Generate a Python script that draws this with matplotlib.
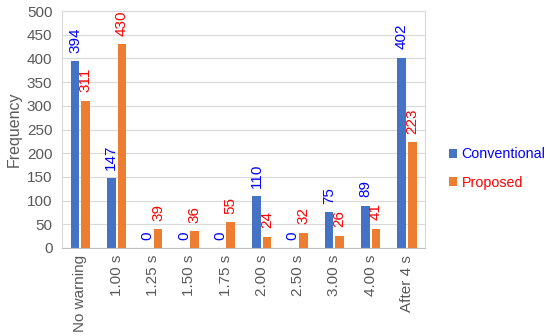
import numpy as np
import matplotlib
matplotlib.use("Agg")
from matplotlib import pyplot as plt

plt.rcParams['font.family'] = ['Liberation Sans', 'DejaVu Sans']

categories = ["No warning", "1.00 s", "1.25 s", "1.50 s", "1.75 s",
              "2.00 s", "2.50 s", "3.00 s", "4.00 s", "After 4 s"]
conventional = [394, 147, 0, 0, 0, 110, 0, 75, 89, 402]
proposed = [311, 430, 39, 36, 55, 24, 32, 26, 41, 223]

fig = plt.figure(figsize=(5.5, 3.36), dpi=100)
ax = fig.add_axes([0.113, 0.262, 0.66, 0.705])

x = np.arange(len(categories))
w = 0.235
off = 0.145
b1 = ax.bar(x - off, conventional, w, color="#4472C4", label="Conventional", zorder=2)
b2 = ax.bar(x + off, proposed, w, color="#ED7D31", label="Proposed", zorder=2)

# value labels, rotated, above the bars
for bars, vals, col in [(b1, conventional, "blue"), (b2, proposed, "red")]:
    for rect, v in zip(bars, vals):
        ax.annotate(str(v), (rect.get_x() + rect.get_width() / 2, v),
                    xytext=(0, 6), textcoords="offset points", rotation=90,
                    ha="center", va="bottom", color=col, fontsize=11)

ax.set_xlim(-0.5, len(categories) - 0.5)
ax.set_ylim(0, 500)
ax.set_yticks(range(0, 501, 50))
ax.set_xticks(x)
ax.set_xticklabels(categories, rotation=90)
ax.tick_params(axis="both", length=0, labelsize=11, colors="#595959")
ax.tick_params(axis="y", pad=7)
ax.tick_params(axis="x", pad=5)
ax.grid(axis="y", color="#D9D9D9", linewidth=0.8, zorder=0)
for s in ax.spines.values():
    s.set_color("#D9D9D9")
ax.spines["bottom"].set_color("#BFBFBF")
ax.set_ylabel("Frequency", fontsize=11.5, color="#595959")

leg = ax.legend(loc="center left", bbox_to_anchor=(1.065, 0.335), frameon=False,
                fontsize=10.3, handlelength=0.55, handleheight=0.55, handletextpad=0.35,
                labelspacing=1.0, borderaxespad=0, borderpad=0)
for t, c in zip(leg.get_texts(), ["blue", "red"]):
    t.set_color(c)

fig.savefig("out.png", dpi=100)
